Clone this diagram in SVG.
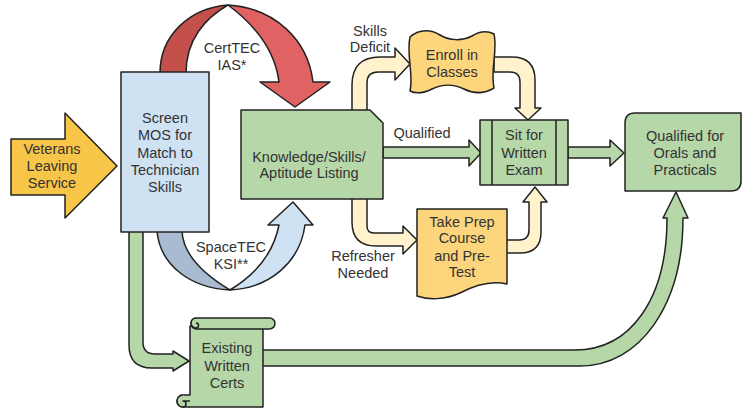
<svg xmlns="http://www.w3.org/2000/svg" width="743" height="410" viewBox="0 0 743 410">
<style>
.s{stroke:#222;stroke-width:1.5;stroke-linejoin:round}
.g{fill:#b6d7a8}
.c{fill:#fff2cc}
.y{fill:#fcd57c}
.t{font-family:"Liberation Sans",Arial,sans-serif;font-size:14.5px;fill:#333;text-anchor:middle}
</style>
<rect width="743" height="410" fill="#fff"/>
<g id="connectors">
  <path class="s c" d="M352,111 L352,85 Q352,57 380,57 L395,57 L395,48 L410,64 L395,80 L395,72 L378,72 Q367,72 367,83 L367,111 Z"/>
  <path class="s c" d="M494,57 L512,57 Q535,57 535,80 L535,108 L541,108 L528,120 L515,108 L520,108 L520,82 Q520,72 510,72 L494,72 Z"/>
  <path class="s c" d="M352,198 L352,222 Q352,246 376,246 L403,246 L403,254 L417,240 L403,226 L403,233 L374,233 Q367,233 367,226 L367,198 Z"/>
  <path class="s c" d="M506,253 L520,253 Q541,253 541,232 L541,202 L547,202 L535,187 L523,202 L529,202 L529,230 Q529,240 519,240 L506,240 Z"/>
  <path class="s g" d="M383,147 L469,147 L469,140 L481,153 L469,166 L469,158 L383,158 Z"/>
  <path class="s g" d="M568,147 L610,147 L610,140 L624,153 L610,166 L610,158 L568,158 Z"/>
  <path class="s g" d="M129,231 L129,345 Q129,368 152,368 L173,368 L173,371 L189,361 L173,351 L173,354 L155,354 Q143,354 143,342 L143,231 Z"/>
  <path class="s g" d="M262,350 L575,350 C630,350 667,300 667,218 L663,218 L676,192 L688,218 L683,218 C683,305 640,366 580,366 L262,366 Z"/>
  <path class="s" fill="#c4504c" d="M160,73 C160,35 190,8 228,5 C205,18 186,40 186,73 Z"/>
  <path class="s" fill="#e06262" d="M228,5 C275,8 308,40 313,82 L330,82 L295,107 L260,82 L279,82 C275,50 255,25 228,5 Z"/>
  <path class="s" fill="#a9bbd0" d="M157,231 C160,265 190,288 230,290 C205,275 183,255 182,231 Z"/>
  <path class="s" fill="#cfe2f3" d="M230,290 C270,288 300,262 305,225 L313,225 L293,202 L268,225 L279,225 C273,255 255,275 230,290 Z"/>
</g>
<g id="veterans">
  <path class="s" fill="#f7c548" d="M11,139 L65,139 L65,113 L117,166 L65,218 L65,195 L11,195 Z"/>
  <text class="t" x="52" y="154">Veterans</text>
  <text class="t" x="52" y="171">Leaving</text>
  <text class="t" x="52" y="188">Service</text>
</g>
<g id="screen">
  <rect class="s" fill="#cfe2f3" x="121" y="72" width="88" height="160"/>
  <text class="t" x="165" y="123">Screen</text>
  <text class="t" x="165" y="140">MOS for</text>
  <text class="t" x="165" y="158">Match to</text>
  <text class="t" x="165" y="175">Technician</text>
  <text class="t" x="165" y="192">Skills</text>
</g>
<g id="certtec">
  <text class="t" x="232" y="53">CertTEC</text>
  <text class="t" x="232" y="70">IAS*</text>
</g>
<g id="spacetec">
  <text class="t" x="231" y="252">SpaceTEC</text>
  <text class="t" x="231" y="269">KSI**</text>
</g>
<g id="knowledge">
  <path class="s g" d="M241,110 L370,110 L383,123 L383,199 L241,199 Z"/>
  <text class="t" x="309" y="162">Knowledge/Skills/</text>
  <text class="t" x="309" y="178">Aptitude Listing</text>
</g>
<g id="labels">
  <text class="t" x="370" y="36">Skills</text>
  <text class="t" x="370" y="52">Deficit</text>
  <text class="t" x="422" y="138">Qualified</text>
  <text class="t" x="363" y="261">Refresher</text>
  <text class="t" x="363" y="278">Needed</text>
</g>
<g id="enroll">
  <path class="s y" d="M410,37 C420,28 432,30 440,35 C450,41 462,41 472,36 C480,31 488,31 494,34 C498,50 490,70 494,88 C484,94 474,94 464,89 C454,84 442,84 432,89 C424,93 416,94 410,91 C414,75 406,55 410,37 Z"/>
  <text class="t" x="452" y="60">Enroll in</text>
  <text class="t" x="452" y="77">Classes</text>
</g>
<g id="sit">
  <rect class="s g" x="480" y="120" width="88" height="65"/>
  <line class="s" x1="492" y1="120" x2="492" y2="185"/>
  <line class="s" x1="556" y1="120" x2="556" y2="185"/>
  <text class="t" x="524" y="140">Sit for</text>
  <text class="t" x="524" y="158">Written</text>
  <text class="t" x="524" y="175">Exam</text>
</g>
<g id="prep">
  <path class="s y" d="M417,209 L507,209 L507,284 C490,280 475,285 460,293 C445,300 428,300 417,296 Z"/>
  <text class="t" x="462" y="227">Take Prep</text>
  <text class="t" x="462" y="243">Course</text>
  <text class="t" x="462" y="261">and Pre-</text>
  <text class="t" x="462" y="277">Test</text>
</g>
<g id="qualified">
  <path class="s g" d="M635,113 L741,113 L741,181 Q741,191 731,191 L625,191 L625,123 Q625,113 635,113 Z"/>
  <text class="t" x="685" y="141">Qualified for</text>
  <text class="t" x="685" y="158">Orals and</text>
  <text class="t" x="685" y="175">Practicals</text>
</g>
<g id="existing">
  <path class="s g" d="M190,326 L263,326 L263,407 L183,407 A6,6 0 0 1 183,395 L190,395 Z"/>
  <rect class="s g" x="191" y="318" width="84" height="11" rx="5.5"/>
  <path class="s g" d="M196,318 A5,5 0 0 0 196,328 A2.5,2.5 0 0 0 196,323"/>
  <path class="s g" d="M183,395 A6,6 0 0 0 183,407 A3,3 0 0 0 183,401 L190,401"/>
  <text class="t" x="227" y="353">Existing</text>
  <text class="t" x="227" y="371">Written</text>
  <text class="t" x="227" y="388">Certs</text>
</g>
</svg>
